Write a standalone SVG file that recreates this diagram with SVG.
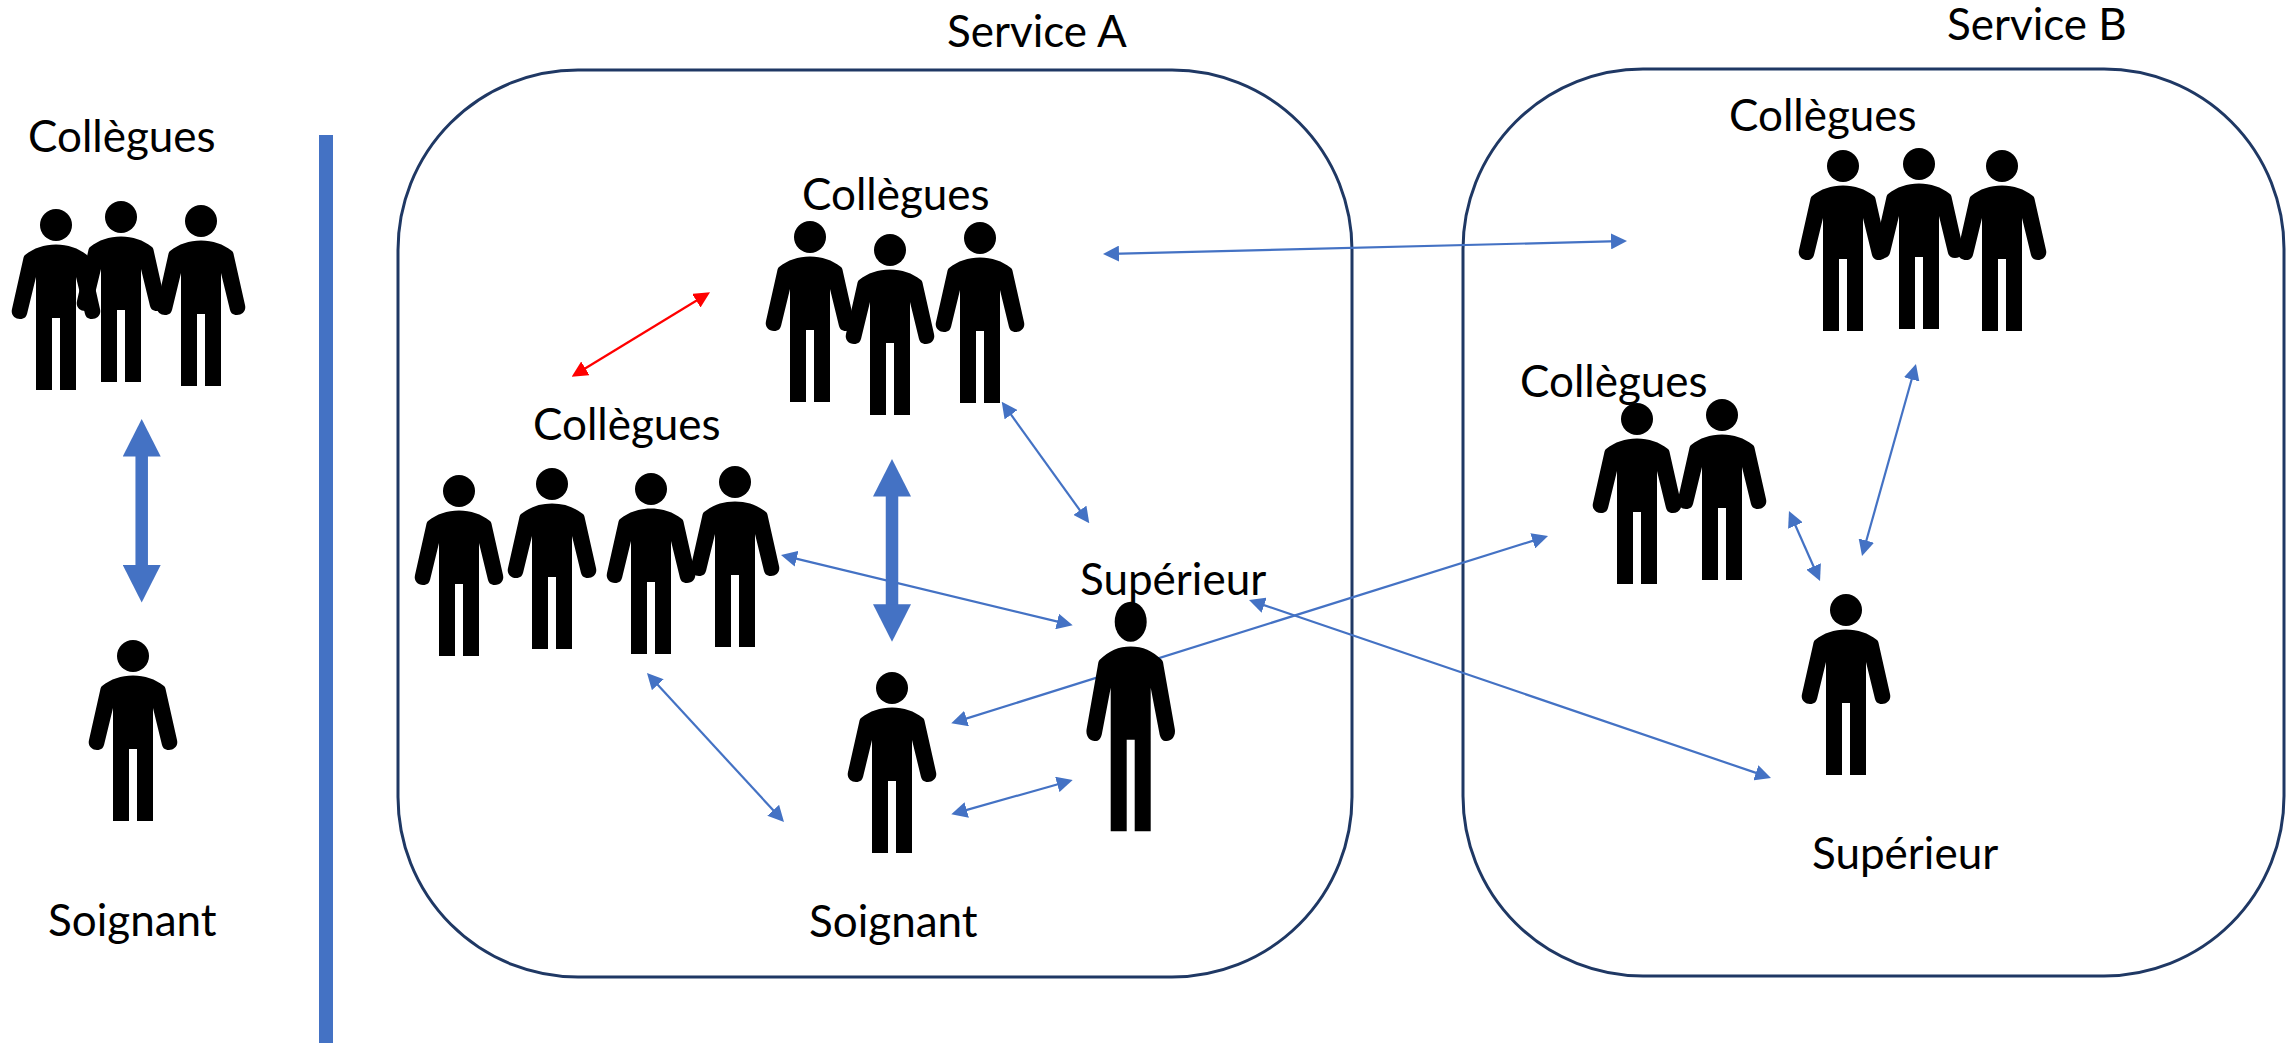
<svg xmlns="http://www.w3.org/2000/svg" width="2290" height="1043" viewBox="0 0 2290 1043">
<style>
text{font-family:"Lato","Carlito","Open Sans",sans-serif;font-size:44px;fill:#000}
.box{fill:none;stroke:#1f3864;stroke-width:3}
.thin{fill:none;stroke:#4472c4;stroke-width:2.2;marker-start:url(#ah);marker-end:url(#ah)}
.red{fill:none;stroke:#ff0000;stroke-width:2.2;marker-start:url(#ar);marker-end:url(#ar)}
.thick{fill:none;stroke:#4472c4;stroke-width:12.5;marker-start:url(#at);marker-end:url(#at)}
</style>
<defs>
<marker id="ah" markerUnits="userSpaceOnUse" markerWidth="16" markerHeight="16" viewBox="0 0 16 16" refX="8" refY="8" orient="auto-start-reverse"><path d="M0,0L16,8L0,16Z" fill="#4472c4"/></marker>
<marker id="ar" markerUnits="userSpaceOnUse" markerWidth="16" markerHeight="16" viewBox="0 0 16 16" refX="8" refY="8" orient="auto-start-reverse"><path d="M0,0L16,8L0,16Z" fill="#ff0000"/></marker>
<marker id="at" markerUnits="userSpaceOnUse" markerWidth="38" markerHeight="38" viewBox="0 0 38 38" refX="18" refY="19" orient="auto-start-reverse"><path d="M0,0L37.5,19L0,38Z" fill="#4472c4"/></marker>
<path id="body" d="M0,19.5C-12,19.5-22,23-31,30C-32.5,31-32.5,33-33,35L-44,84C-45.5,90-41,94-36,94C-31.5,94-29.5,92-28.5,87L-20,52L-20,165L-4,165L-4,93L4,93L4,165L20,165L20,52L28.5,87C29.5,92 31.5,94 36,94C41,94 45.5,90 44,84L33,35C32.5,33 32.5,31 31,30C22,23 12,19.5 0,19.5Z"/>
<g id="p"><circle r="16"/><use href="#body"/></g>
</defs>
<rect width="2290" height="1043" fill="#fff"/>
<rect x="319" y="135" width="14" height="908" fill="#4472c4"/>
<rect class="box" x="398" y="70" width="954" height="907" rx="180" ry="180"/>
<rect class="box" x="1463" y="69" width="821" height="907" rx="180" ry="180"/>
<g id="connectors">
<path class="red" d="M578.5,372.5L703.2,296.5"/>
<path class="thin" d="M1111,253.8L1619,241.2"/>
<path class="thin" d="M1006.4,408.2L1084.6,516.8"/>
<path class="thin" d="M788.8,556.9L1064.9,623.4"/>
<path class="thin" d="M958.9,720.9L1540.4,538.4"/>
<path class="thin" d="M959,812.1L1065,782.2"/>
<path class="thin" d="M652.4,678.9L778.6,816.1"/>
<path class="thin" d="M1256.6,602.6L1763.4,775.4"/>
<path class="thin" d="M1792.2,518.3L1816.8,573.7"/>
<path class="thin" d="M1913.8,371.7L1864.2,548.3"/>
<path class="thick" d="M141.7,438.5V583"/>
<path class="thick" d="M892,478.5V622.2"/>
</g>
<text id="service-a" x="947" y="47">Service A</text>
<text id="service-b" x="1947" y="39.5">Service B</text>
<g id="collegues-left">
<text x="28" y="152">Collègues</text>
<use href="#p" x="56" y="225"/><use href="#p" x="121" y="217"/><use href="#p" x="201" y="221"/>
</g>
<g id="soignant-left">
<use href="#p" x="133" y="656"/>
<text x="48" y="936">Soignant</text>
</g>
<g id="collegues-a-top">
<text x="802" y="210">Collègues</text>
<use href="#p" x="810" y="237"/><use href="#p" x="890" y="250"/><use href="#p" x="980" y="238"/>
</g>
<g id="collegues-a-left">
<text x="533" y="440">Collègues</text>
<use href="#p" x="459" y="491"/><use href="#p" x="552" y="484"/><use href="#p" x="651" y="489"/><use href="#p" x="735" y="482"/>
</g>
<g id="soignant-a">
<use href="#p" x="892" y="688"/>
<text x="809" y="937">Soignant</text>
</g>
<g id="superieur-a">
<text x="1080" y="595">Supérieur</text>
<ellipse cx="1130.7" cy="621.7" rx="16" ry="20"/>
<use href="#body" transform="translate(1130.7,621.7) scale(1,1.27)"/>
</g>
<g id="collegues-b-top">
<text x="1729" y="131">Collègues</text>
<use href="#p" x="1843" y="166"/><use href="#p" x="1919" y="164"/><use href="#p" x="2002" y="166"/>
</g>
<g id="collegues-b-mid">
<text x="1520" y="397">Collègues</text>
<use href="#p" x="1637" y="419"/><use href="#p" x="1722" y="415"/>
</g>
<g id="superieur-b">
<use href="#p" x="1846" y="610"/>
<text x="1812" y="869">Supérieur</text>
</g>
</svg>
